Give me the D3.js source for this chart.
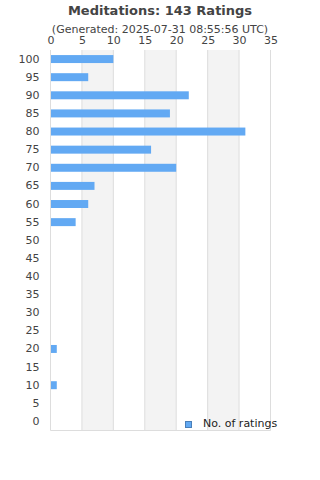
<!DOCTYPE html>
<html><head><meta charset="utf-8">
<script src="https://cdn.jsdelivr.net/npm/d3@7"></script>
<style>body{margin:0;background:#fff;}svg{display:block;font-family:"DejaVu Sans",sans-serif;}</style>
</head><body>
<svg id="c" width="320" height="480"></svg>
<script>
const title = "Meditations: 143 Ratings";
const subtitle = "(Generated: 2025-07-31 08:55:56 UTC)";
const categories = ["100","95","90","85","80","75","70","65","60","55","50","45","40","35","30","25","20","15","10","5","0"];
const ratings = [10,6,22,19,31,16,20,7,6,4,0,0,0,0,0,0,1,0,1,0,0];
const xTicks = [0,5,10,15,20,25,30,35];
const seriesName = "No. of ratings";

const svg = d3.select("#c");
const m = {l:50.5, r:270.5, t:50, b:430.5};
const x = d3.scaleLinear().domain([0,35]).range([m.l, m.r]);
const y = d3.scaleBand().domain(categories).range([m.t, m.b]).paddingInner(0.56).paddingOuter(0.28);

// alternating bands
for (let i = 0; i < xTicks.length-1; i++) {
  if (i % 2 === 1) {
    svg.append("rect").attr("x", x(xTicks[i])).attr("y", m.t)
      .attr("width", x(xTicks[i+1]) - x(xTicks[i])).attr("height", m.b - m.t)
      .attr("fill", "#f3f3f3");
  }
}
// gridlines
svg.append("g").selectAll("line").data(xTicks).join("line")
  .attr("x1", d => x(d)).attr("x2", d => x(d)).attr("y1", m.t).attr("y2", m.b)
  .attr("stroke", "#dddddd").attr("stroke-width", 1);
// bottom border
svg.append("line").attr("x1", m.l).attr("x2", m.r).attr("y1", m.b).attr("y2", m.b)
  .attr("stroke", "#dddddd");

// bars
svg.append("g").selectAll("rect").data(categories).join("rect")
  .attr("x", x(0)+0.5).attr("y", d => y(d))
  .attr("width", (d,i) => Math.max(0, x(ratings[i]) - x(0) - 0.5))
  .attr("height", y.bandwidth())
  .attr("fill", "#62a9f3");

// top axis
const xa = svg.append("g").attr("transform", `translate(0,${m.t})`)
  .call(d3.axisTop(x).tickValues(xTicks).tickSize(0).tickPadding(6));
xa.select(".domain").remove();
xa.selectAll("text").attr("font-size", 11).attr("fill", "#444").attr("font-family", "DejaVu Sans, sans-serif");

// left axis
const ya = svg.append("g").attr("transform", `translate(${m.l},0)`)
  .call(d3.axisLeft(y).tickSize(0).tickPadding(11));
ya.select(".domain").remove();
ya.selectAll("text").attr("font-size", 11).attr("fill", "#444").attr("font-family", "DejaVu Sans, sans-serif");

// titles
svg.append("text").attr("x", 160).attr("y", 15).attr("text-anchor", "middle")
  .attr("font-size", 13).attr("font-weight", "bold").attr("fill", "#444").text(title);
svg.append("text").attr("x", 160).attr("y", 33).attr("text-anchor", "middle")
  .attr("font-size", 11).attr("fill", "#444").text(subtitle);

// legend
svg.append("rect").attr("x", 185.5).attr("y", 421.5).attr("width", 6).attr("height", 6)
  .attr("fill", "#62a9f3").attr("stroke", "#4a7fb8").attr("stroke-width", 1);
svg.append("text").attr("x", 203).attr("y", 427).attr("font-size", 11).attr("fill", "#222").text(seriesName);
</script>
</body></html>
